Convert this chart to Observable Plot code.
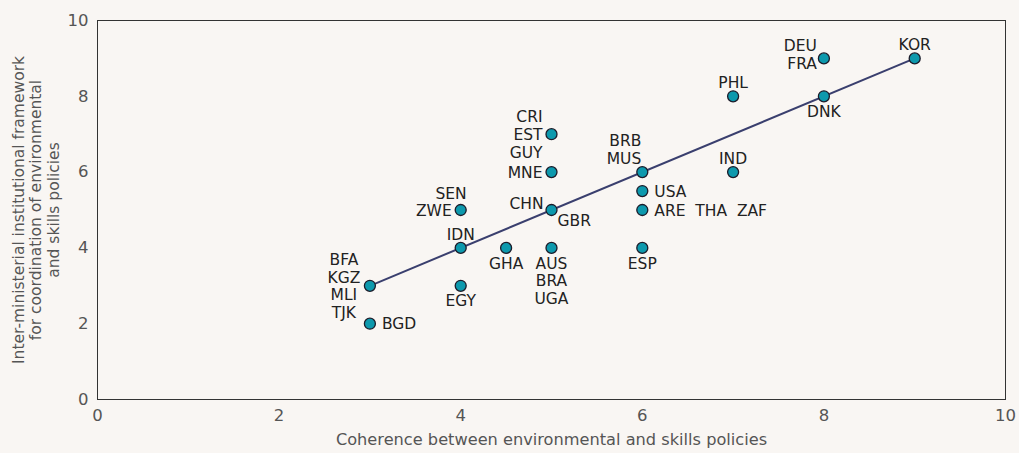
<!DOCTYPE html>
<html>
<head>
<meta charset="utf-8">
<script src="https://cdn.jsdelivr.net/npm/d3@7"></script>
<script src="https://cdn.jsdelivr.net/npm/@observablehq/plot@0.6"></script>
<style>
  html, body { margin: 0; padding: 0; background: #f9f6f3; }
  #chart svg { display: block; background: #f9f6f3; }
</style>
</head>
<body>
<div id="chart"></div>
<script>
// ---- Data ----
const coherence = [9, 8, 7, 8, 7, 6, 6, 6, 6, 5, 5, 5, 5, 4.5, 4, 4, 4, 3, 3];
const framework = [9, 9, 8, 8, 6, 6, 5.5, 5, 4, 7, 6, 5, 4, 4, 5, 4, 3, 3, 2];

// labels attached to points: text, x, y, placement
const labelTexts = ["KOR", "DEU\nFRA", "PHL", "DNK", "IND", "BRB\nMUS", "USA",
  "ARE\u00a0 THA\u00a0 ZAF", "ESP", "CRI\nEST\nGUY", "MNE", "CHN", "GBR",
  "AUS\nBRA\nUGA", "GHA", "SEN", "ZWE", "IDN", "EGY", "BFA\nKGZ\nMLI\nTJK", "BGD"];
const labelX = [9, 8, 7, 8, 7, 6, 6, 6, 6, 5, 5, 5, 5, 5, 4.5, 4, 4, 4, 4, 3, 3];
const labelY = [9, 9, 8, 8, 6, 6, 5.5, 5, 4, 7, 6, 5, 5, 4, 4, 5, 5, 4, 3, 3, 2];
const labelPos = ["top", "left2", "top", "bottom", "top", "topleft", "right",
  "right", "bottom", "left", "left", "upleft", "downright",
  "bottom", "bottom", "sen", "left", "top", "bottom", "farleft", "right"];

// trend line end points
const trendX = [3, 9];
const trendY = [3, 9];

const xTicks = [0, 2, 4, 6, 8, 10];
const yTicks = [0, 2, 4, 6, 8, 10];

const xTitle = "Coherence between environmental and skills policies";
const yTitle = "Inter-ministerial institutional framework\nfor coordination of environmental\nand skills policies";

// ---- Build ----
const points = coherence.map((x, i) => ({x, y: framework[i]}));
const labels = labelTexts.map((t, i) => ({t, x: labelX[i], y: labelY[i], pos: labelPos[i]}));
const trend = trendX.map((x, i) => ({x, y: trendY[i]}));

const placements = {
  top:       {textAnchor: "middle", lineAnchor: "bottom", dx: 0, dy: -8},
  bottom:    {textAnchor: "middle", lineAnchor: "top", dx: 0, dy: 8},
  right:     {textAnchor: "start", lineAnchor: "middle", dx: 12, dy: 0},
  left:      {textAnchor: "end", lineAnchor: "middle", dx: -9, dy: 0},
  left2:     {textAnchor: "end", lineAnchor: "middle", dx: -7, dy: -4},
  topleft:   {textAnchor: "end", lineAnchor: "bottom", dx: -1, dy: -8},
  upleft:    {textAnchor: "end", lineAnchor: "middle", dx: -8, dy: -7},
  downright: {textAnchor: "start", lineAnchor: "middle", dx: 6, dy: 10},
  sen:       {textAnchor: "end", lineAnchor: "middle", dx: 6, dy: -17},
  farleft:   {textAnchor: "middle", lineAnchor: "middle", dx: -26, dy: 0}
};

const font = "'DejaVu Sans', sans-serif";
const labelMarks = Object.entries(placements).map(([k, o]) =>
  Plot.text(labels.filter(d => d.pos === k), {
    x: "x", y: "y", text: "t", ...o,
    fontSize: 15.5, fill: "#222", lineHeight: 1.15, fontFamily: font
  })
);

const chart = Plot.plot({
  width: 1019,
  height: 453,
  marginLeft: 97,
  marginRight: 14,
  marginTop: 20,
  marginBottom: 54,
  style: {background: "#f9f6f3", fontFamily: font},
  x: {domain: [0, 10], ticks: xTicks, label: null},
  y: {domain: [0, 10], ticks: yTicks, label: null},
  marks: [
    Plot.frame({stroke: "#333", strokeWidth: 1}),
    Plot.axisX({ticks: xTicks, tickSize: 0, tickPadding: 10, fontSize: 16.5, fill: "#555", label: null}),
    Plot.axisY({ticks: yTicks, tickSize: 0, tickPadding: 9, fontSize: 16.5, fill: "#555", label: null}),
    Plot.text([xTitle], {frameAnchor: "bottom", dy: 45, fontSize: 16.2, fill: "#555", fontFamily: font}),
    Plot.text([yTitle], {frameAnchor: "left", rotate: -90, dx: -62, fontSize: 15.5, fill: "#555",
      textAnchor: "middle", lineAnchor: "middle", lineHeight: 1.13, fontFamily: font}),
    Plot.line(trend, {x: "x", y: "y", stroke: "#3a3f6e", strokeWidth: 2}),
    Plot.dot(points, {x: "x", y: "y", r: 5.5, fill: "#0d99ad", stroke: "#1c1c2a", strokeWidth: 1.3}),
    ...labelMarks
  ]
});
document.getElementById("chart").append(chart);
</script>
</body>
</html>
